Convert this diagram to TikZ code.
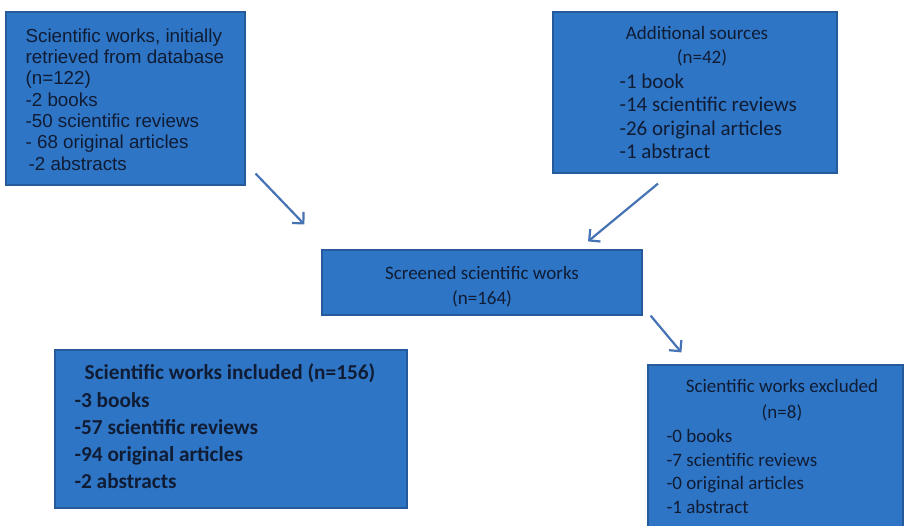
\documentclass[tikz,border=0pt]{standalone}
\usepackage{fontspec}
\setmainfont{Carlito}
\newfontfamily\arialfont{Liberation Sans}
\usetikzlibrary{arrows.meta,calc}
\definecolor{PBox}{HTML}{2E75C5}
\definecolor{PEdge}{HTML}{255A9B}
\definecolor{PText}{HTML}{101C34}
\definecolor{PArrow}{HTML}{4673B4}
\tikzset{
  flowbox/.style={draw=PEdge,line width=1.2pt,fill=PBox,inner sep=0pt},
  boxtext/.style={text=PText,inner sep=0pt,font=\fontsize{19}{23.3}\selectfont},
  flowarrow/.style={draw=PArrow,line width=2.2pt,-{Straight Barb[length=8pt,width=16pt]}}
}
\begin{document}
\begin{tikzpicture}[x=1pt,y=-1pt]
\path[use as bounding box] (0,0) rectangle (905,525);
% boxes
\node[flowbox,minimum width=239pt,minimum height=173pt] (db) at (125.5,98.5) {};
\node[flowbox,minimum width=284pt,minimum height=161pt] (extra) at (695,92.5) {};
\node[flowbox,minimum width=320pt,minimum height=65pt] (screened) at (482,282.5) {};
\node[flowbox,minimum width=352pt,minimum height=158pt] (included) at (231,429) {};
\node[flowbox,minimum width=255pt,minimum height=164pt] (excluded) at (775.5,447) {};
% texts
\node[boxtext,anchor=north west,align=left,font=\arialfont\fontsize{18.8}{21.3}\selectfont] (db-text) at ($(db.north west)+(20,17)$)
  {Scientific works, initially\\retrieved from database\\(n=122)\\-2 books\\-50 scientific reviews\\- 68 original articles\\\hspace{3pt}-2 abstracts};
\node[boxtext,anchor=north,align=center] (extra-head) at ($(extra.north)+(2,15)$) {Additional sources\\\hspace{10pt}(n=42)};
\node[boxtext,anchor=north west,align=left,font=\fontsize{21}{23.5}\selectfont] (extra-list) at ($(extra.north west)+(67,62)$)
  {-1 book\\-14 scientific reviews\\-26 original articles\\-1 abstract};
\node[boxtext,align=center,font=\fontsize{19}{25}\selectfont] (screened-text) at ($(screened.center)+(0,4)$) {Screened scientific works\\(n=164)};
\node[boxtext,anchor=north,font=\bfseries\fontsize{21.3}{27}\selectfont] (included-head) at ($(included.north)+(-1,14)$) {Scientific works included (n=156)};
\node[boxtext,anchor=north west,align=left,font=\bfseries\fontsize{21.3}{27}\selectfont] (included-list) at ($(included.north west)+(20,43)$)
  {-3 books\\-57 scientific reviews\\-94 original articles\\-2 abstracts};
\node[boxtext,anchor=north,align=center,font=\fontsize{19}{26}\selectfont] (excluded-head) at ($(excluded.north)+(6.5,15)$) {Scientific works excluded\\(n=8)};
\node[boxtext,anchor=north west,align=left,font=\fontsize{19}{23.5}\selectfont] (excluded-list) at ($(excluded.north west)+(19,65)$)
  {-0 books\\-7 scientific reviews\\-0 original articles\\-1 abstract};
% arrow ends
\coordinate (a1s) at ($(db.south east)+(10,-12)$);
\coordinate (a1e) at ($(screened.north west)+(-17,-25)$);
\coordinate (a2s) at ($(extra.south)+(-37,10)$);
\coordinate (a2e) at ($(screened.north)+(106,-8)$);
\coordinate (a3s) at ($(screened.south east)+(8,0)$);
\coordinate (a3e) at ($(excluded.north west)+(34,-12)$);
\draw[flowarrow] (a1s) -- (a1e);
\draw[flowarrow] (a2s) -- (a2e);
\draw[flowarrow] (a3s) -- (a3e);
\end{tikzpicture}
\end{document}
